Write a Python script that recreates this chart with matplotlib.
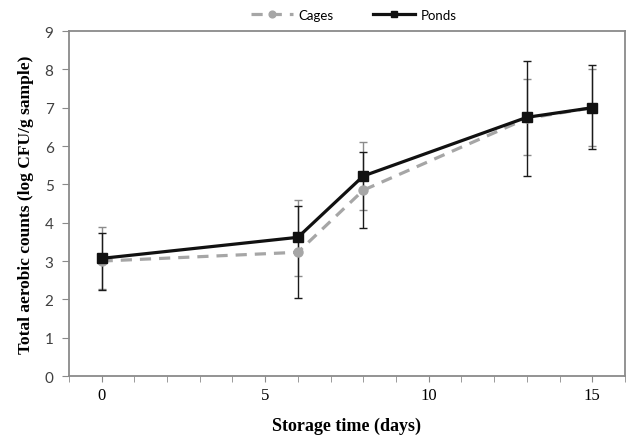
import matplotlib
matplotlib.use("Agg")
import matplotlib.pyplot as plt
from matplotlib.ticker import MultipleLocator

# storage days
days = [0, 6, 8, 13, 15]

# mean counts (log CFU/g)
cages = [3.0, 3.23, 4.85, 6.72, 7.0]
ponds = [3.07, 3.62, 5.22, 6.75, 7.0]

# error bars (lower, upper)
cages_lo = [0.74, 0.63, 0.52, 0.95, 1.0]
cages_hi = [0.88, 1.36, 1.26, 1.03, 1.02]
ponds_lo = [0.82, 1.59, 1.36, 1.53, 1.07]
ponds_hi = [0.65, 0.81, 0.63, 1.46, 1.12]

x_ticks = [0, 5, 10, 15]
y_ticks = list(range(0, 10))

fig = plt.figure(figsize=(6.32, 4.39), dpi=100)
ax = fig.add_axes([0.109, 0.141, 0.88, 0.786])

gray = "#a6a6a6"
ax.errorbar(days, cages, yerr=[cages_lo, cages_hi], fmt="none",
            ecolor="#8c8c8c", elinewidth=1.0, capsize=3, capthick=1.0, zorder=2)
ax.errorbar(days, ponds, yerr=[ponds_lo, ponds_hi], fmt="none",
            ecolor="#1a1a1a", elinewidth=1.0, capsize=3, capthick=1.0, zorder=2)

ax.plot(days, cages, color=gray, linestyle=(0, (3.5, 2.5)), linewidth=2.3,
        marker="o", markersize=6.5, markerfacecolor=gray, markeredgecolor=gray,
        label="Cages", zorder=3)
ax.plot(days, ponds, color="#111111", linewidth=2.3, marker="s", markersize=6.5,
        label="Ponds", zorder=4)

ax.set_xlim(-1, 16)
ax.set_ylim(0, 9)
ax.set_xticks(x_ticks)
ax.xaxis.set_minor_locator(MultipleLocator(1))
ax.set_yticks(y_ticks)

for s in ax.spines.values():
    s.set_color("#8a8a8a")
    s.set_linewidth(1.3)

ax.tick_params(axis="x", which="both", direction="out", length=4, color="#8a8a8a",
               labelsize=12, pad=4)
ax.tick_params(axis="y", direction="out", length=5, color="#8a8a8a",
               labelsize=11, pad=6, labelcolor="#404040")
for lab in ax.get_xticklabels():
    lab.set_fontfamily("Liberation Serif")
for lab in ax.get_yticklabels():
    lab.set_fontfamily("Lato")

ax.set_xlabel("Storage time (days)", fontfamily="Liberation Serif",
              fontweight="bold", fontsize=13, labelpad=10)
ax.set_ylabel("Total aerobic counts (log CFU/g sample)", fontfamily="Liberation Serif",
              fontweight="bold", fontsize=12.5, labelpad=8)

fig.legend(loc="upper center", bbox_to_anchor=(0.56, 1.005), ncol=2, frameon=False,
           prop={"family": "Lato", "size": 9.5}, handlelength=3.2, columnspacing=3.0,
           handletextpad=0.4, markerscale=0.75)

fig.savefig("out.png", dpi=100)
